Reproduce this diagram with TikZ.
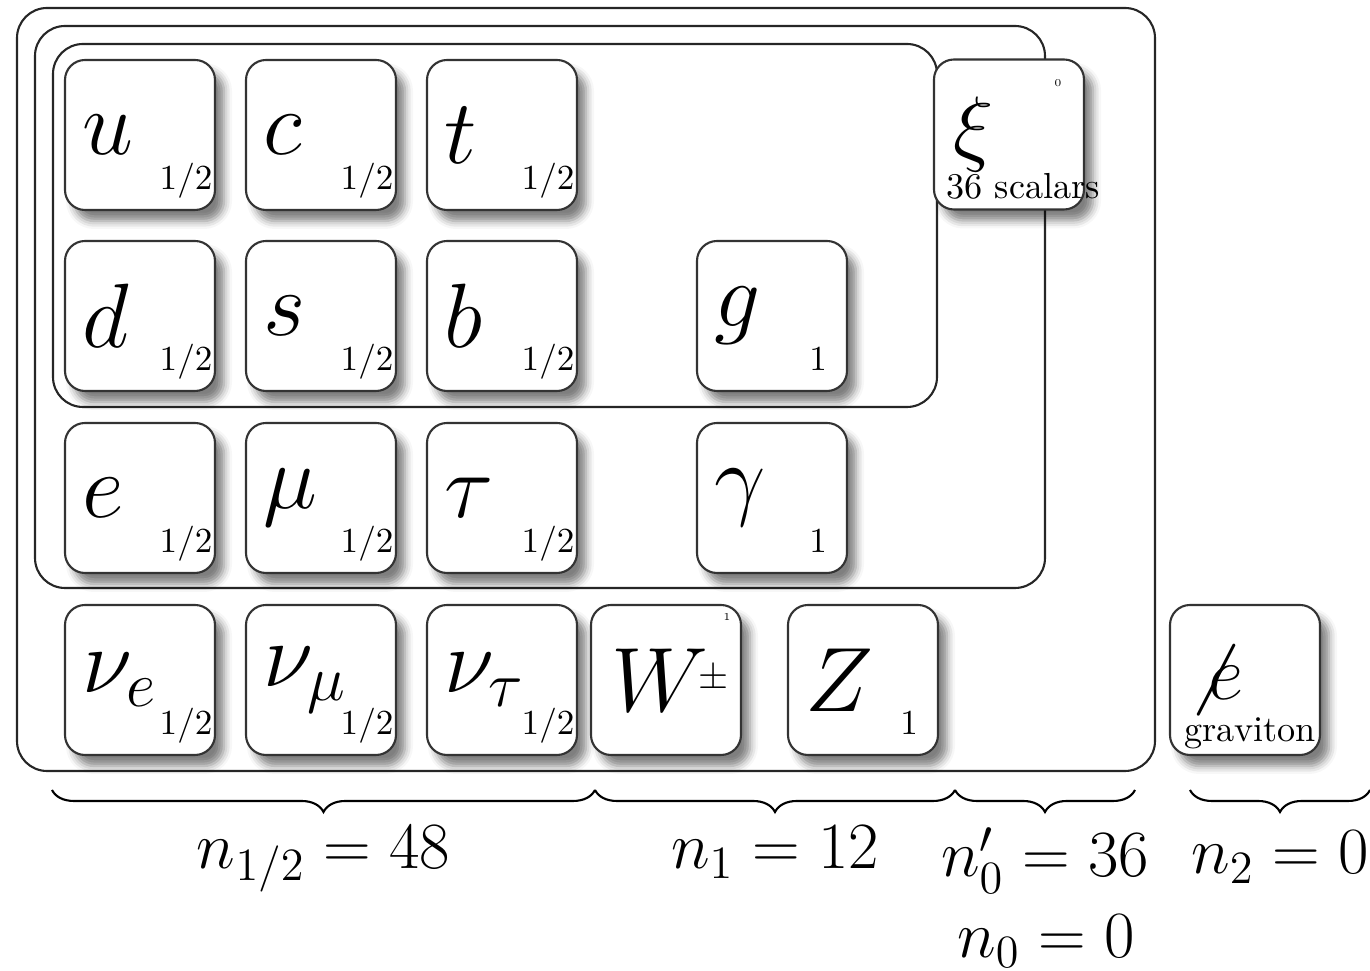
\RequirePackage{fix-cm}
\documentclass[tikz,border=0pt]{standalone}
\usetikzlibrary{shadows.blur, decorations.pathreplacing}

\tikzset{
  particle/.style={draw=black!80, line width=0.6pt, fill=white, rounded corners=0.2cm,
    minimum width=1.5cm, minimum height=1.5cm, inner sep=0pt,
    blur shadow={shadow xshift=0.09cm, shadow yshift=-0.11cm, shadow blur radius=0.08cm, shadow opacity=50}},
  symb/.style={anchor=west, inner sep=0pt, font=\fontsize{26}{30}\selectfont},
  spin/.style={anchor=base, inner sep=0pt, font=\fontsize{10}{12}\selectfont},
  tinyspin/.style={inner sep=0pt, font=\fontsize{3}{4}\selectfont},
  note/.style={anchor=base west, inner sep=0pt, font=\fontsize{10.3}{12}\selectfont},
  frame/.style={draw=black!85, line width=0.6pt, rounded corners=0.3cm},
  brace/.style={decorate, decoration={brace, mirror, amplitude=0.22cm}, line width=0.6pt},
  count/.style={anchor=base, inner sep=0pt, font=\fontsize{18.8}{22}\selectfont}
}

% box with symbol and spin: name, x, y, symbol, spin
\newcommand{\particle}[5]{%
  \node[particle] (#1) at (#2,#3) {};
  \node[symb] (#1-sym) at ([xshift=0.18cm]#1.west) {$#4$};
  \node[spin] (#1-spin) at ([shift={(-0.3,0.22)}]#1.south east) {$#5$};
}

\begin{document}
\begin{tikzpicture}
  \useasboundingbox (0,0) rectangle (13.7,-9.71);

  % Nested frames
  \draw[frame] (0.17,-0.08) rectangle (11.55,-7.71);
  \draw[frame] (0.35,-0.26) rectangle (10.45,-5.88);
  \draw[frame] (0.53,-0.44) rectangle (9.37,-4.07);

  % Quarks
  \particle{u}{1.40}{-1.35}{u}{1/2}
  \particle{c}{3.21}{-1.35}{c}{1/2}
  \particle{t}{5.02}{-1.35}{t}{1/2}
  \particle{d}{1.40}{-3.16}{d}{1/2}
  \particle{s}{3.21}{-3.16}{s}{1/2}
  \particle{b}{5.02}{-3.16}{b}{1/2}
  \particle{g}{7.72}{-3.16}{g}{1}

  % Leptons and photon
  \particle{e}{1.40}{-4.98}{e}{1/2}
  \particle{mu}{3.21}{-4.98}{\mu}{1/2}
  \particle{tau}{5.02}{-4.98}{\tau}{1/2}
  \particle{gam}{7.72}{-4.98}{\gamma}{1}

  % Neutrinos and weak bosons
  \particle{nue}{1.40}{-6.80}{\nu_e}{1/2}
  \particle{numu}{3.21}{-6.80}{\nu_\mu}{1/2}
  \particle{nutau}{5.02}{-6.80}{\nu_\tau}{1/2}
  \node[particle] (W) at (6.66,-6.80) {};
  \node[symb] (W-sym) at ([xshift=0.21cm]W.west)
    {$W$\hspace{-0.1cm}\raisebox{0.23cm}{\fontsize{11}{13}\selectfont$\pm$}};
  \node[tinyspin] (W-spin) at ([shift={(-0.15,-0.13)}]W.north east) {1};
  \particle{Z}{8.63}{-6.80}{Z}{1}

  % Scalars
  \node[particle] (xi) at (10.09,-1.345) {};
  \node[symb, font=\fontsize{24}{28}\selectfont] (xi-sym) at ([xshift=0.2cm]xi.west) {$\xi$};
  \node[tinyspin] (xi-spin) at ([shift={(-0.27,-0.25)}]xi.north east) {0};
  \node[note] (xi-text) at ([shift={(0.13,0.12)}]xi.south west) {36 scalars};

  % Graviton
  \node[particle] (grav) at (12.45,-6.80) {};
  \node[symb, font=\fontsize{22}{26}\selectfont] (grav-sym) at ([xshift=0.17cm]grav.west) {$\not e$};
  \node[note] (grav-text) at ([shift={(0.15,0.15)}]grav.south west) {graviton};

  % Braces and counts
  \coordinate (b1) at (0.52,-7.90);
  \coordinate (b2) at (5.95,-7.90);
  \coordinate (b3) at (9.55,-7.90);
  \coordinate (b4) at (11.35,-7.90);
  \coordinate (b5) at (11.90,-7.90);
  \coordinate (b6) at (13.70,-7.90);
  \draw[brace] (b1) -- (b2);
  \draw[brace] (b2) -- (b3);
  \draw[brace] (b3) -- (b4);
  \draw[brace] (b5) -- (b6);

  \node[count] (nhalf) at (3.235,-8.69) {$n_{1/2} = 48$};
  \node[count] (none) at (7.75,-8.69) {$n_1 = 12$};
  \node[count] (nzp) at (10.45,-8.77) {$n'_0 = 36$};
  \node[count] (nzero) at (10.46,-9.58) {$n_0 = 0$};
  \node[count] (ntwo) at (12.80,-8.74) {$n_2 = 0$};
\end{tikzpicture}
\end{document}
